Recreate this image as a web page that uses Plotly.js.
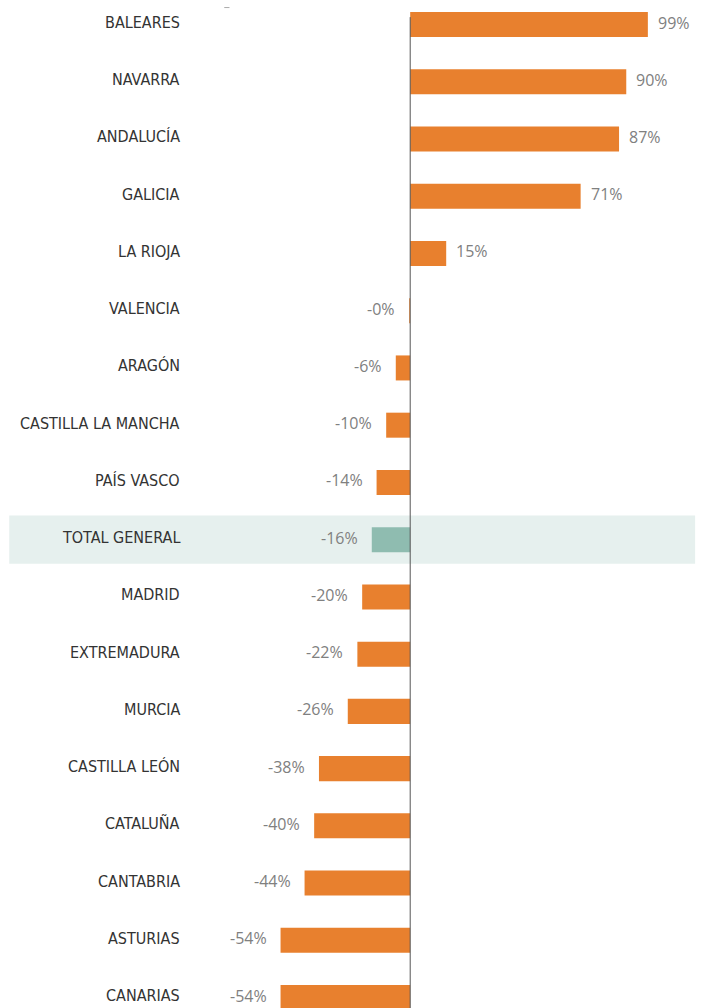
<!DOCTYPE html>
<html><head><meta charset="utf-8">
<script src="https://cdn.plot.ly/plotly-3.0.1.min.js"></script>
<style>html,body{margin:0;padding:0;background:#fff}</style>
</head><body>
<div id="chart" style="width:705px;height:1008px"></div>
<script>
const categories = ["BALEARES","NAVARRA","ANDALUCÍA","GALICIA","LA RIOJA","VALENCIA","ARAGÓN","CASTILLA LA MANCHA","PAÍS VASCO","TOTAL GENERAL","MADRID","EXTREMADURA","MURCIA","CASTILLA LEÓN","CATALUÑA","CANTABRIA","ASTURIAS","CANARIAS"];
const values = [99, 90, 87, 71, 15, -0.4, -6, -10, -14, -16, -20, -22, -26, -38, -40, -44, -54, -54];
const highlight = "TOTAL GENERAL";

const orange = "#E8802E", teal = "#8FBCB0";
const colors = categories.map(c => c === highlight ? teal : orange);
const fmt = v => (v < 0 ? "-" : "") + Math.abs(Math.round(v)) + "%";

const trace = {
  type: "bar", orientation: "h", y: categories, x: values,
  marker: {color: colors}, hoverinfo: "skip"
};

const valueLabels = categories.map((c, i) => ({
  x: values[i], y: c, xref: "x", yref: "y",
  text: fmt(values[i]), showarrow: false,
  xanchor: values[i] >= 0 ? "left" : "right",
  xshift: values[i] >= 0 ? 8 : -12, yshift: 2,
  font: {family: "Open Sans, sans-serif", size: 16, color: "#808080"}
}));
const catLabels = categories.map((c) => ({
  x: -0.0058, y: c, xref: "paper", yref: "y",
  text: c, showarrow: false, xanchor: "right", yshift: 2,
  font: {family: "DejaVu Sans Condensed, Liberation Sans Narrow, sans-serif", size: 16, color: "#333"}
}));

const hiIdx = categories.indexOf(highlight);
const layout = {
  width: 705, height: 1008,
  margin: {l: 185, r: 0, t: 0, b: 0},
  paper_bgcolor: "#fff", plot_bgcolor: "rgba(0,0,0,0)",
  showlegend: false, bargap: 0.563,
  xaxis: {range: [-93.8, 122.8], showgrid: false, zeroline: false, showticklabels: false, fixedrange: true},
  yaxis: {type: "category", categoryorder: "array", categoryarray: categories,
          range: [17.182, -0.428], showgrid: false, zeroline: false, showline: false,
          ticks: "", showticklabels: false},
  shapes: [
    {type: "rect", layer: "below", xref: "paper", yref: "y", x0: -0.338, x1: 0.981,
     y0: hiIdx - 0.42, y1: hiIdx + 0.42, fillcolor: "#E6F0EE", line: {width: 0}},
    {type: "line", layer: "above", xref: "x", yref: "paper", x0: 0, x1: 0, y0: 0, y1: 0.983,
     line: {color: "#555", width: 1}},
    {type: "line", xref: "paper", yref: "paper", x0: 0.0755, x1: 0.0855, y0: 0.9925, y1: 0.9925,
     line: {color: "#aaa", width: 1}}
  ],
  annotations: catLabels.concat(valueLabels)
};
Plotly.newPlot("chart", [trace], layout, {displayModeBar: false, staticPlot: true});
</script>
</body></html>
